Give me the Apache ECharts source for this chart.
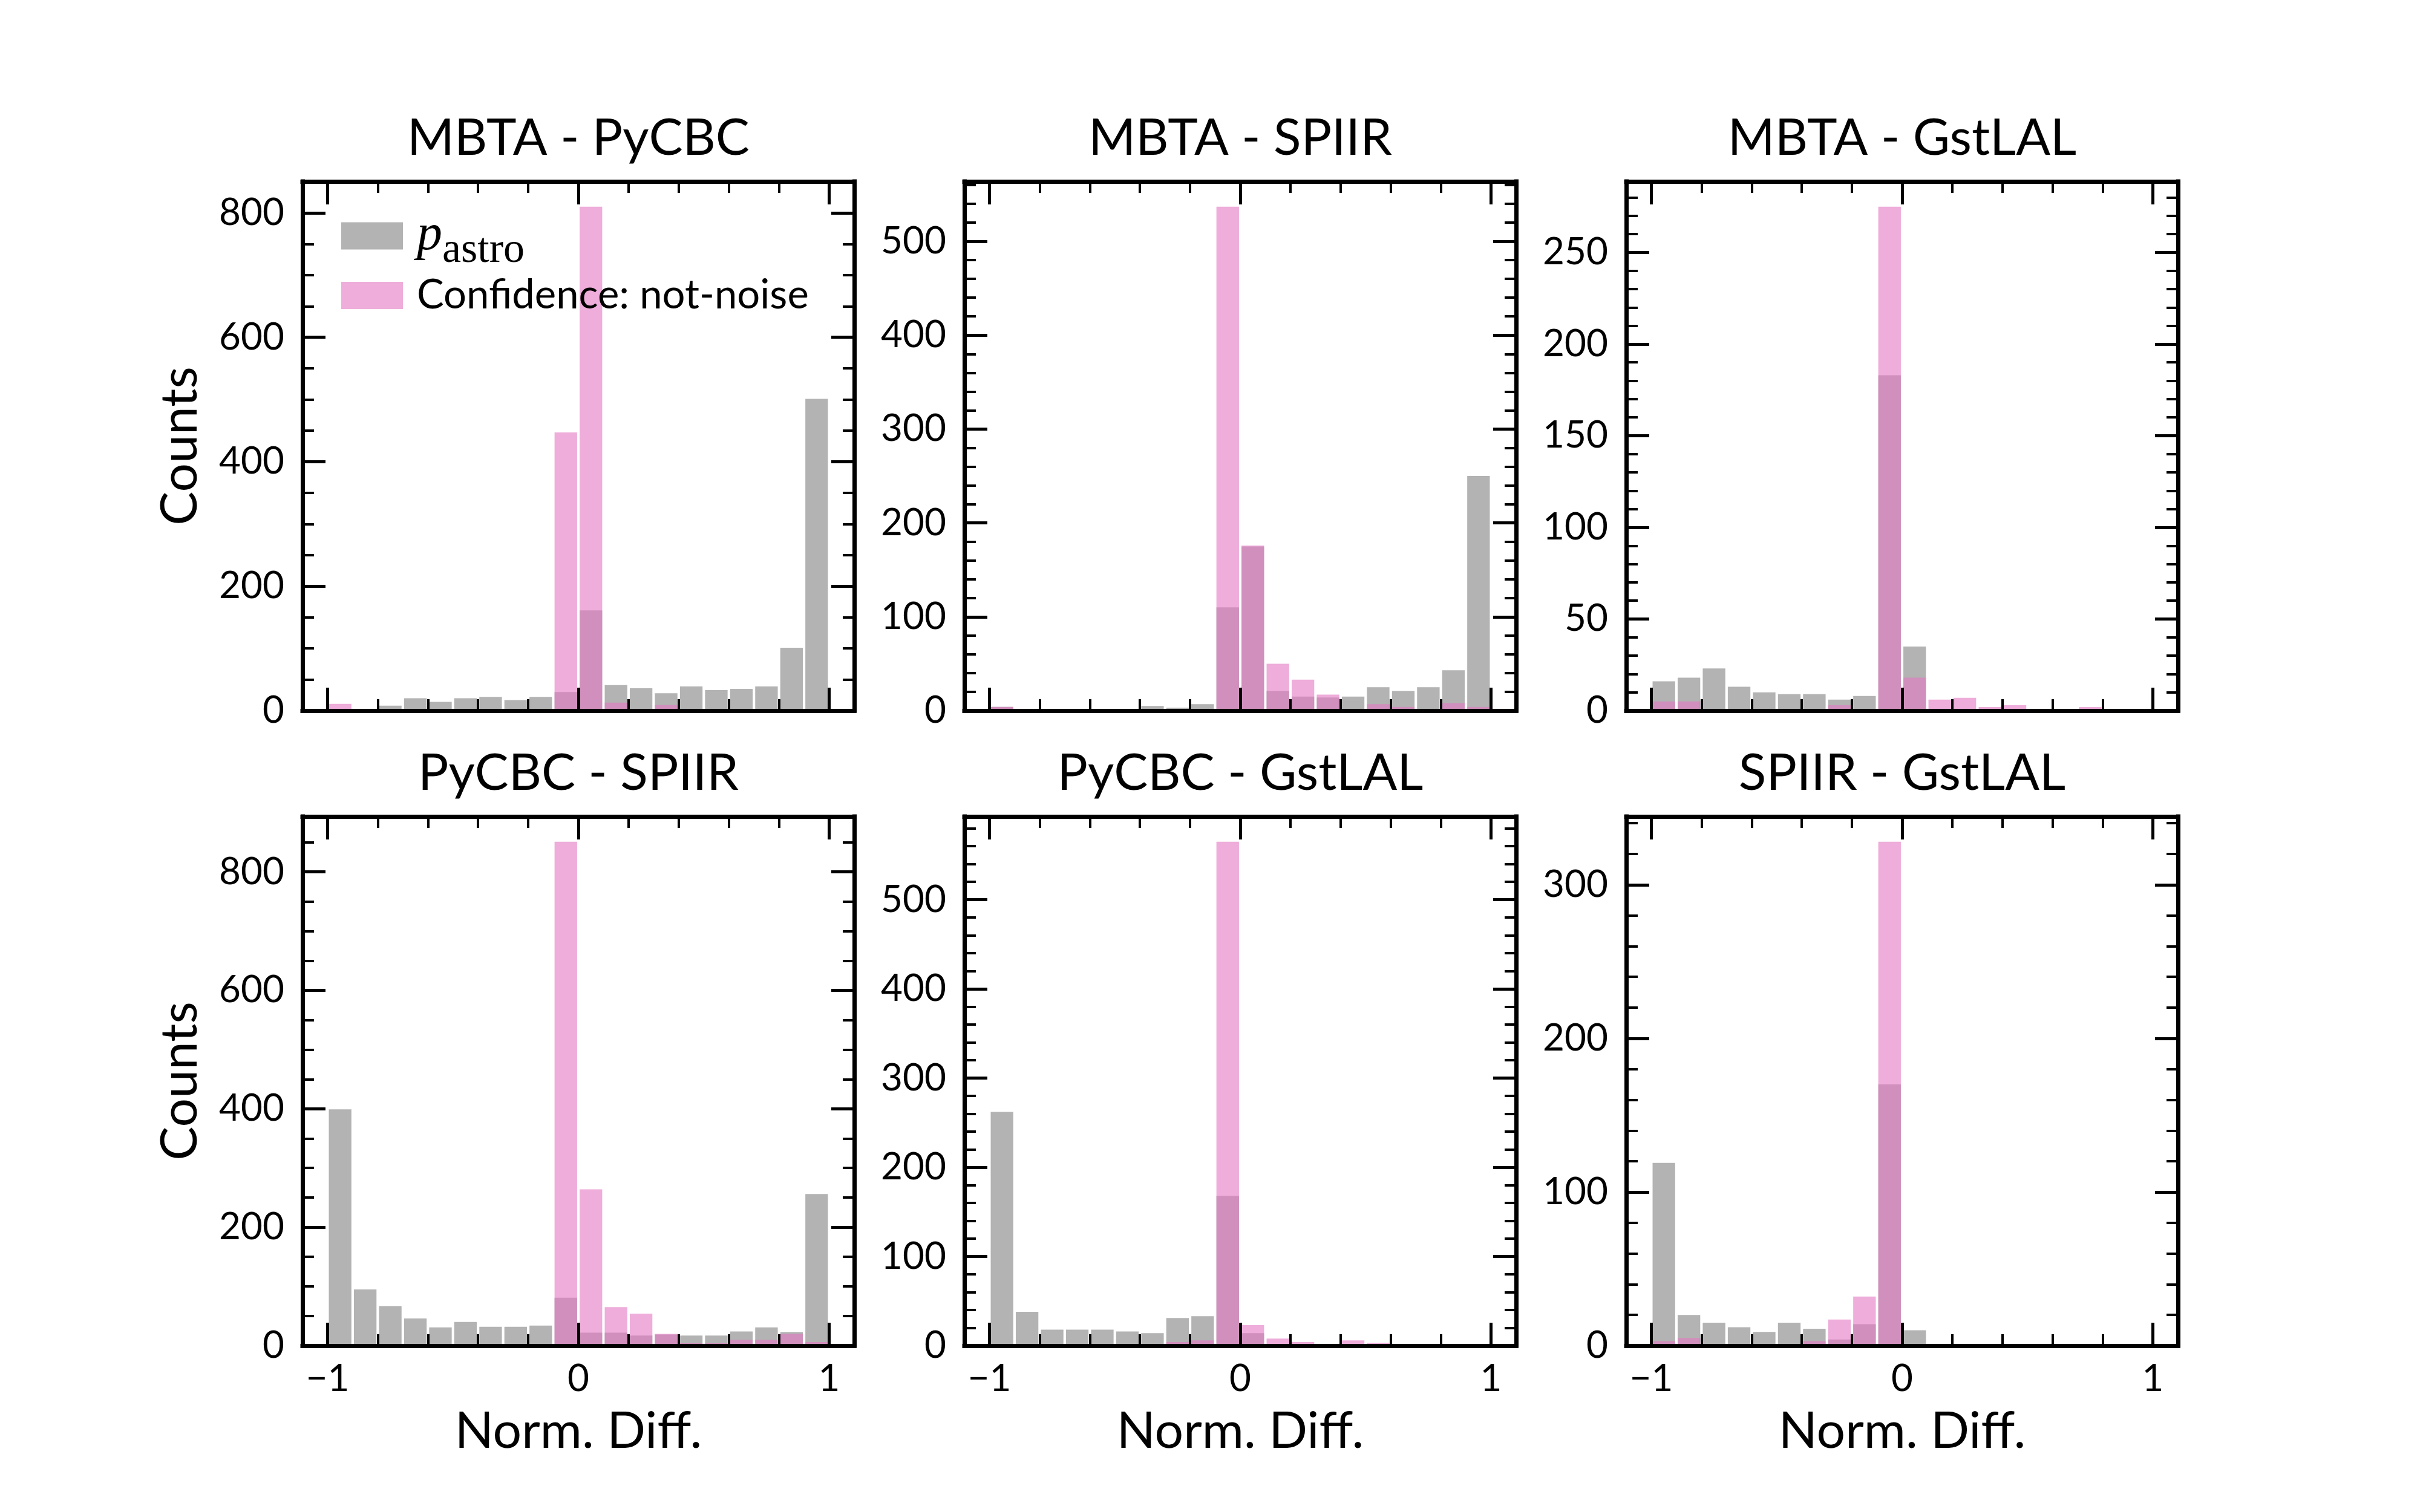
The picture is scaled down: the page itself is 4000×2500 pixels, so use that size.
<!DOCTYPE html>
<html>
<head>
<meta charset="utf-8">
<script src="https://cdn.jsdelivr.net/npm/echarts@6/dist/echarts.min.js"></script>
<style>
html,body{margin:0;padding:0;background:#fff;}
#chart{width:4000px;height:2500px;}
</style>
</head>
<body>
<div id="chart"></div>
<script>
// ---------------- DATA ----------------
const binEdges = [-1.0,-0.9,-0.8,-0.7,-0.6,-0.5,-0.4,-0.3,-0.2,-0.1,0.0,0.1,0.2,0.3,0.4,0.5,0.6,0.7,0.8,0.9,1.0];
const panelTitles = ['MBTA - PyCBC','MBTA - SPIIR','MBTA - GstLAL','PyCBC - SPIIR','PyCBC - GstLAL','SPIIR - GstLAL'];
const seriesNames = ['p_astro','Confidence: not-noise'];

const pAstro_MBTA_PyCBC   = [0, 0, 8, 20, 14, 20, 22, 17, 22, 30, 161, 41, 36, 28, 39, 33, 35, 39, 101, 501];
const conf_MBTA_PyCBC     = [11, 0, 0, 0, 0, 2, 0, 0, 2, 447, 810, 13, 2, 9, 0, 0, 0, 0, 0, 0];
const pAstro_MBTA_SPIIR   = [4, 1, 0, 1, 1, 0, 5, 3, 7, 110, 175, 21, 15, 14, 15, 25, 21, 25, 43, 250];
const conf_MBTA_SPIIR     = [4, 1, 0, 0, 0, 0, 0, 0, 0, 537, 176, 50, 33, 17, 1, 7, 4, 2, 8, 4];
const pAstro_MBTA_GstLAL  = [16, 18, 23, 13, 10, 9, 9, 6, 8, 183, 35, 1, 0, 0, 0, 0, 0, 0, 0, 0];
const conf_MBTA_GstLAL    = [5, 5, 0, 0, 0, 1, 0, 3, 0, 275, 18, 6, 7, 2, 3, 1, 0, 2, 0, 0];
const pAstro_PyCBC_SPIIR  = [399, 95, 67, 46, 31, 40, 32, 32, 34, 81, 22, 22, 17, 19, 17, 17, 24, 31, 23, 256];
const conf_PyCBC_SPIIR    = [0, 0, 0, 0, 0, 0, 0, 0, 2, 851, 264, 65, 54, 20, 4, 4, 10, 10, 20, 6];
const pAstro_PyCBC_GstLAL = [262, 38, 18, 18, 18, 16, 14, 31, 33, 168, 14, 0, 0, 0, 0, 0, 0, 0, 0, 0];
const conf_PyCBC_GstLAL   = [0, 0, 0, 0, 0, 0, 0, 4, 6, 565, 23, 8, 4, 0, 6, 3, 0, 0, 0, 0];
const pAstro_SPIIR_GstLAL = [119, 20, 15, 12, 9, 15, 11, 4, 14, 170, 10, 0, 0, 0, 0, 0, 0, 0, 0, 0];
const conf_SPIIR_GstLAL   = [3, 5, 0, 0, 0, 1, 3, 17, 32, 328, 1, 1, 1, 0, 0, 0, 0, 0, 0, 0];

const yMajorStep = [200, 100, 50, 200, 100, 100];
const yMinorStep = [50, 20, 10, 50, 20, 20];
const xMajorTicks = [-1, 0, 1];
const xMinorTicks = [-0.8, -0.6, -0.4, -0.2, 0.2, 0.4, 0.6, 0.8];

// ---------------- LAYOUT / STYLE ----------------
const pAstroSets = [pAstro_MBTA_PyCBC, pAstro_MBTA_SPIIR, pAstro_MBTA_GstLAL, pAstro_PyCBC_SPIIR, pAstro_PyCBC_GstLAL, pAstro_SPIIR_GstLAL];
const confSets = [conf_MBTA_PyCBC, conf_MBTA_SPIIR, conf_MBTA_GstLAL, conf_PyCBC_SPIIR, conf_PyCBC_GstLAL, conf_SPIIR_GstLAL];
const FONT = 'Lato';
const GL = [500, 1594, 2688], GT = [300, 1350], GW = 912, GH = 875;
const RW = 0.9;
const X_MIN = -1.1, X_MAX = 1.1;
const GRAY = 'rgba(128,128,128,0.6)';
const PINK = 'rgba(227,119,194,0.6)';
const MAJ_LEN = 38, MIN_LEN = 19;

function toBins(counts) { return counts.map((c, i) => [binEdges[i], binEdges[i + 1], c]); }
function fmtX(v) { return v < 0 ? '\u2212' + Math.abs(v) : String(v); }
function majorTicks(step, max) { const o = []; for (let i = 0; i * step <= max + 1e-9; i++) o.push(+(i * step).toFixed(6)); return o; }
function minorTicks(step, major, max) {
  const o = [];
  for (let i = 0; i * step <= max + 1e-9; i++) {
    const v = +(i * step).toFixed(6);
    if (Math.abs(v / major - Math.round(v / major)) > 1e-6) o.push(v);
  }
  return o;
}
function renderBin(params, api) {
  const lo = api.value(0), hi = api.value(1), h = api.value(2);
  if (!h) return null;
  const c = (lo + hi) / 2, half = (hi - lo) * RW / 2;
  const a = api.coord([c - half, 0]), b = api.coord([c + half, h]);
  return { type: 'rect', shape: { x: a[0], y: b[1], width: b[0] - a[0], height: a[1] - b[1] }, style: api.style() };
}

const grids = [], xAxes = [], yAxes = [], series = [], titles = [];
const lineStyle = { color: '#000', width: 7, cap: 'square' };

for (let k = 0; k < 6; k++) {
  const r = Math.floor(k / 3), c = k % 3;
  grids.push({ left: GL[c], top: GT[r], width: GW, height: GH, containLabel: false, outerBoundsMode: 'none' });
  const ymax = Math.max(Math.max(...pAstroSets[k]), Math.max(...confSets[k])) * 1.05;
  const yMaj = majorTicks(yMajorStep[k], ymax);
  const yMin = minorTicks(yMinorStep[k], yMajorStep[k], ymax);
  const xBase = xAxes.length, yBase = yAxes.length;
  const mkX = (pos, ticks, len, showLine, showLabel, name) => ({
    gridIndex: k, type: 'value', position: pos, min: X_MIN, max: X_MAX, z: 10,
    axisLine: { show: showLine, onZero: false, lineStyle: lineStyle },
    axisTick: { show: true, inside: true, length: len, customValues: ticks, lineStyle: { color: '#000', width: len === MAJ_LEN ? 5 : 4 } },
    axisLabel: { show: showLabel, customValues: ticks, formatter: fmtX, fontFamily: FONT, fontSize: 62, color: '#000', margin: 24 },
    splitLine: { show: false }, minorTick: { show: false }, minorSplitLine: { show: false },
    name: name || '', nameLocation: 'middle', nameGap: 100,
    nameTextStyle: { fontFamily: FONT, fontSize: 84, color: '#000' }
  });
  const mkY = (pos, ticks, len, showLine, showLabel, name) => ({
    gridIndex: k, type: 'value', position: pos, min: 0, max: ymax, z: 10,
    axisLine: { show: showLine, onZero: false, lineStyle: lineStyle },
    axisTick: { show: true, inside: true, length: len, customValues: ticks, lineStyle: { color: '#000', width: len === MAJ_LEN ? 5 : 4 } },
    axisLabel: { show: showLabel, customValues: ticks, fontFamily: FONT, fontSize: 62, color: '#000', margin: 30 },
    splitLine: { show: false }, minorTick: { show: false }, minorSplitLine: { show: false },
    name: name || '', nameLocation: 'middle', nameGap: 160, nameRotate: 90,
    nameTextStyle: { fontFamily: FONT, fontSize: 84, color: '#000' }
  });
  xAxes.push(mkX('bottom', xMajorTicks, MAJ_LEN, true, r === 1, r === 1 ? 'Norm. Diff.' : ''));
  xAxes.push(mkX('bottom', xMinorTicks, MIN_LEN, false, false, ''));
  xAxes.push(mkX('top', xMajorTicks, MAJ_LEN, true, false, ''));
  xAxes.push(mkX('top', xMinorTicks, MIN_LEN, false, false, ''));
  yAxes.push(mkY('left', yMaj, MAJ_LEN, true, true, c === 0 ? 'Counts' : ''));
  yAxes.push(mkY('left', yMin, MIN_LEN, false, false, ''));
  yAxes.push(mkY('right', yMaj, MAJ_LEN, true, false, ''));
  yAxes.push(mkY('right', yMin, MIN_LEN, false, false, ''));

  series.push({ type: 'custom', name: seriesNames[0], xAxisIndex: xBase, yAxisIndex: yBase, data: toBins(pAstroSets[k]),
    renderItem: renderBin, encode: { x: [0, 1], y: 2 }, itemStyle: { color: GRAY }, z: 2, silent: true });
  series.push({ type: 'custom', name: seriesNames[1], xAxisIndex: xBase, yAxisIndex: yBase, data: toBins(confSets[k]),
    renderItem: renderBin, encode: { x: [0, 1], y: 2 }, itemStyle: { color: PINK }, z: 3, silent: true });

  titles.push({ text: panelTitles[k], left: GL[c] + GW / 2, top: GT[r] - 113, textAlign: 'center', padding: 0,
    textStyle: { fontFamily: FONT, fontSize: 84, fontWeight: 'normal', color: '#000' } });
}

const legendRich = {
  g: { width: 18 },
  t: { fontFamily: FONT, fontSize: 67, lineHeight: 67, color: '#000' },
  p: { fontFamily: 'Liberation Serif', fontStyle: 'italic', fontSize: 84, color: '#000' },
  s: { fontFamily: 'Liberation Serif', fontSize: 70, color: '#000', padding: [50, 0, 0, 0] }
};
function legendFmt(name) {
  return name === 'p_astro' ? '{g|}{p|p}{s|astro}' : '{g|}{t|' + name + '}';
}
const legendBase = { orient: 'vertical', left: 564, padding: 0, itemWidth: 102, itemHeight: 45, icon: 'rect',
  selectedMode: false, formatter: legendFmt, textStyle: { rich: legendRich, color: '#000' }, z: 20 };

const option = {
  animation: false,
  backgroundColor: '#fff',
  title: titles,
  grid: grids,
  xAxis: xAxes,
  yAxis: yAxes,
  legend: [
    Object.assign({}, legendBase, { data: [seriesNames[0]], top: 348 }),
    Object.assign({}, legendBase, { data: [seriesNames[1]], top: 455 })
  ],
  series: series
};
const chart = echarts.init(document.getElementById('chart'), null, { renderer: 'canvas' });
chart.setOption(option);
</script>
</body>
</html>
